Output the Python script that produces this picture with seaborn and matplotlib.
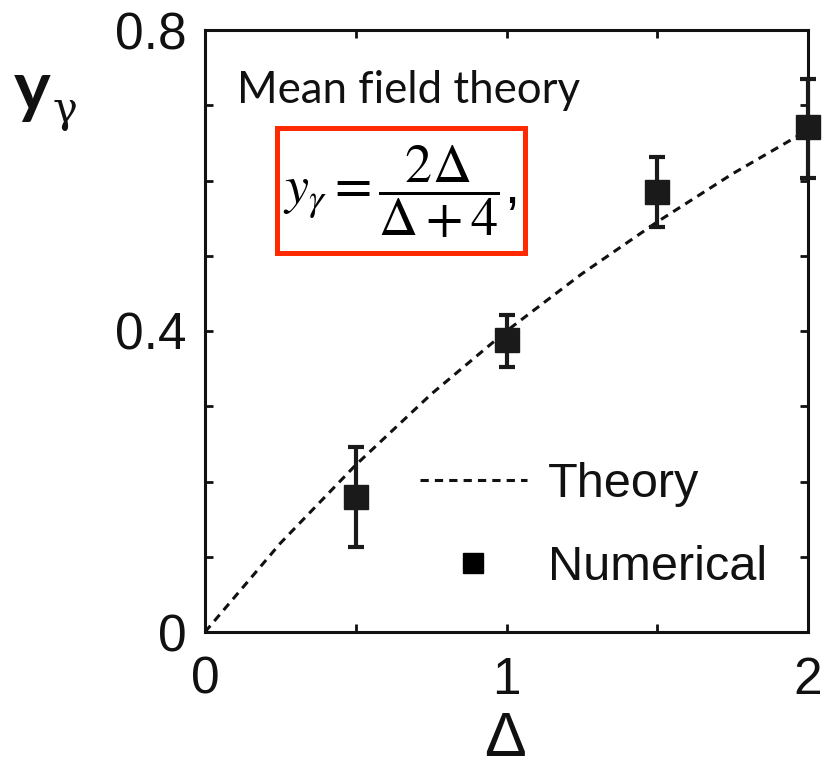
import matplotlib
matplotlib.use("Agg")
import matplotlib.pyplot as plt
from matplotlib.lines import Line2D
from matplotlib.patches import Rectangle
import seaborn as sns
import pandas as pd

# Numerical results: Delta, y_gamma and error-bar extents
delta_num = [0.5, 1.0, 1.5, 2.0]
y_num = [0.179, 0.388, 0.585, 0.671]
y_err_low = [0.066, 0.036, 0.047, 0.068]
y_err_high = [0.067, 0.033, 0.046, 0.064]

# Mean field curve y = 2*Delta/(Delta+4), tabulated
delta_theory = [0.0, 0.25, 0.5, 0.75, 1.0, 1.25, 1.5, 1.75, 2.0]
y_theory = [0.0, 0.118, 0.222, 0.316, 0.400, 0.476, 0.545, 0.609, 0.667]

x_ticks = [0, 0.5, 1, 1.5, 2]
x_tick_labels = ["0", "", "1", "", "2"]
y_ticks = [0, 0.1, 0.2, 0.3, 0.4, 0.5, 0.6, 0.7, 0.8]
y_tick_labels = ["0", "", "", "", "0.4", "", "", "", "0.8"]

sns.set_style("ticks")
plt.rcParams["font.family"] = ["Liberation Sans", "DejaVu Sans"]
plt.rcParams["mathtext.fontset"] = "stix"

W, H = 827, 767
fig = plt.figure(figsize=(W / 100, H / 100), dpi=100)
ax = fig.add_axes([205 / W, 1 - 632 / H, (808 - 205) / W, (632 - 30) / H])

theory_df = pd.DataFrame({"delta": delta_theory, "y": y_theory})
sns.lineplot(data=theory_df, x="delta", y="y", ax=ax, color="#111111",
             linewidth=2.2, dashes=False, estimator=None, sort=False)
ax.lines[0].set_dashes((2.7, 2.0))

ax.errorbar(delta_num, y_num, yerr=[y_err_low, y_err_high], fmt="s",
            color="#1a1a1a", markersize=17, elinewidth=3, capsize=5.5,
            capthick=3, clip_on=False, zorder=5)

ax.set_xlim(0, 2)
ax.set_ylim(0, 0.8)
ax.set_xticks(x_ticks)
ax.set_xticklabels(x_tick_labels)
ax.set_yticks(y_ticks)
ax.set_yticklabels(y_tick_labels)
ax.tick_params(direction="in", length=6, width=2, top=True, right=True,
               labelsize=37, colors="#111111")
ax.tick_params(axis="x", pad=17)
ax.tick_params(axis="y", pad=13)
for s in ax.spines.values():
    s.set_visible(True)
    s.set_linewidth(2.2)
    s.set_color("#111111")
ax.set_xlabel("")
ax.set_ylabel("")

# Axis labels
fig.text(505 / W, 1 - 739 / H, "Δ", fontsize=45, ha="center", va="center",
         color="#111111")
fig.text(14 / W, 1 - 110 / H, "y", fontsize=50, fontweight="bold",
         family=["Lato", "DejaVu Sans"], ha="left", va="baseline",
         color="#111111")
fig.text(53 / W, 1 - 122 / H, "γ", fontsize=30, family=["DejaVu Serif"],
         ha="left", va="baseline", color="#111111")

# Annotation
fig.text(237 / W, 1 - 103 / H, "Mean field theory", fontsize=31.5,
         family=["Lato", "DejaVu Sans"], ha="left", va="baseline",
         color="#111111")
fig.patches.append(Rectangle((277 / W, 1 - 253 / H), (525 - 277) / W,
                             (253 - 128) / H, transform=fig.transFigure,
                             fill=False, edgecolor="#ff2a00", linewidth=3.6))
fig.text(283 / W, 1 - 192 / H,
         r"$y_{\gamma} = \dfrac{2\Delta}{\Delta+4}$,", fontsize=39,
         ha="left", va="center", color="black")

# Legend
handles = [Line2D([], [], color="#111111", linewidth=2.2,
                  dashes=(2.7, 2.0)),
           Line2D([], [], color="black", marker="s", markersize=14,
                  linestyle="none")]
fig.legend(handles, ["Theory", "Numerical"], loc="upper left",
           bbox_to_anchor=(420 / W, 1 - 462 / H), frameon=False,
           fontsize=35, borderpad=0, borderaxespad=0, handlelength=2.2,
           handletextpad=0.43, labelspacing=0.78, labelcolor="#111111")

fig.savefig("out.png", dpi=100)
